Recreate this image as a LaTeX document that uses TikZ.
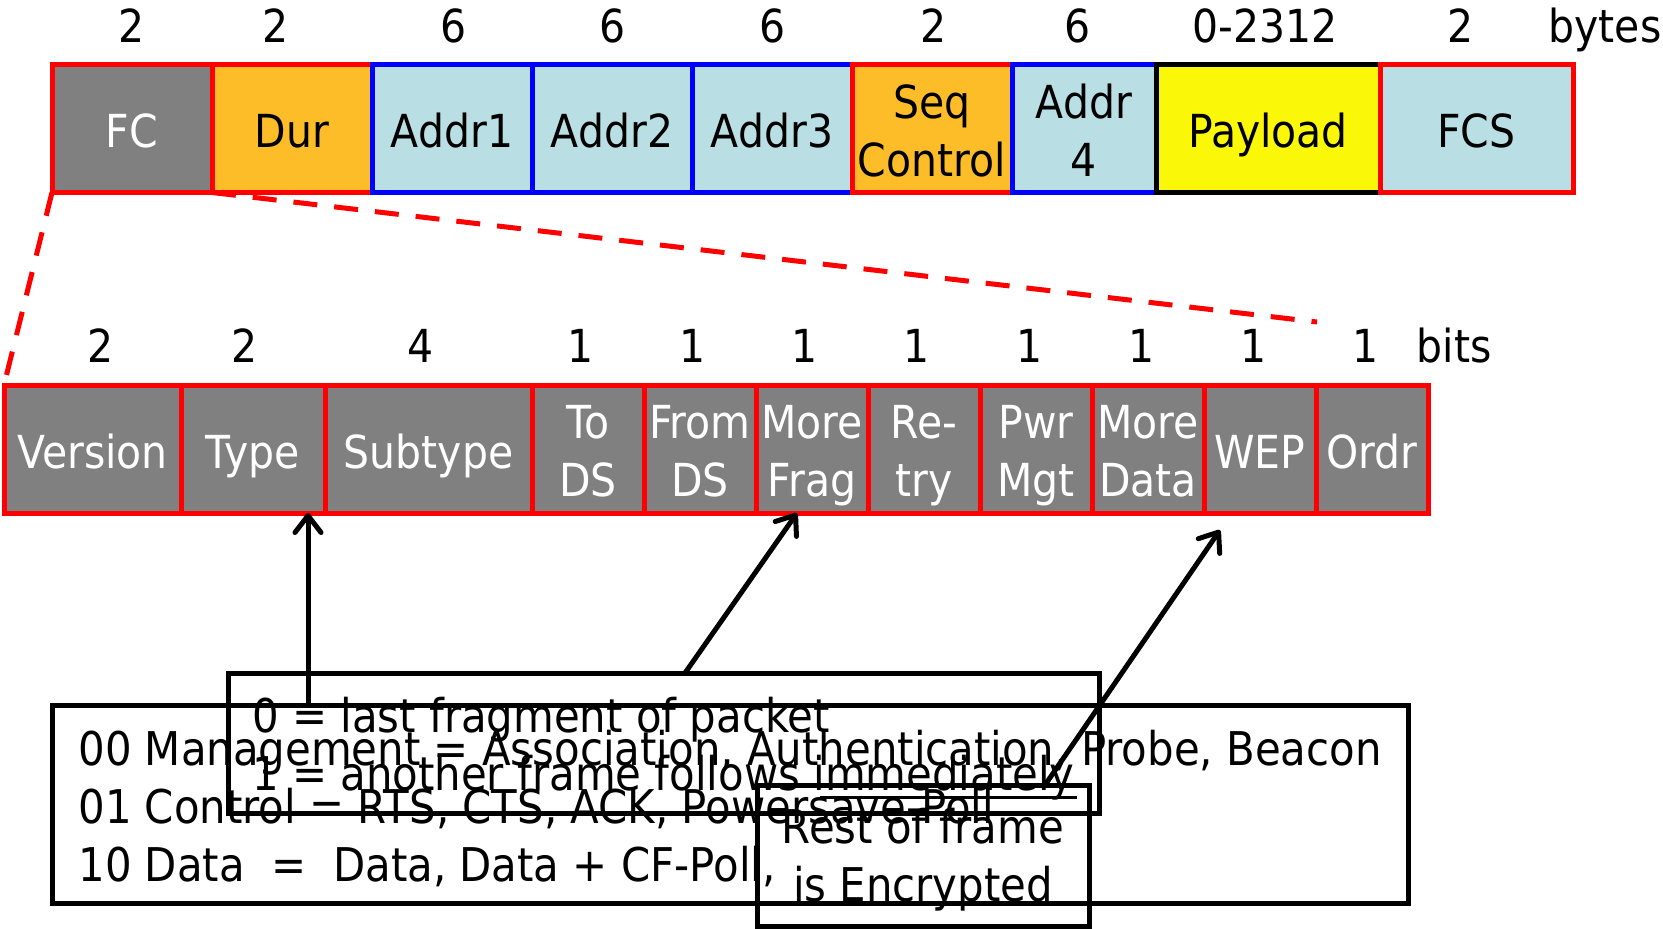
\documentclass[tikz,border=0pt]{standalone}
\usepackage{fontspec}
\setmainfont{DejaVu Sans}[FakeStretch=0.9]
\usetikzlibrary{positioning,arrows.meta}
\definecolor{fcgray}{RGB}{128,128,128}
\definecolor{durorange}{RGB}{252,189,40}
\definecolor{addrcyan}{RGB}{185,223,228}
\definecolor{payyellow}{RGB}{250,248,8}
\newcommand{\twolines}[2]{\rule{0pt}{48pt}#1\\#2\rule[-11pt]{0pt}{11pt}}
\newcommand{\topstrut}[1]{\rule{0pt}{#1}}

\begin{document}
\begin{tikzpicture}[x=1pt, y=-1pt, node distance=0pt,
    every node/.style={font=\fontsize{45.5}{58}\selectfont},
    bytebox/.style={draw, line width=5pt, outer sep=0pt, inner sep=0pt, minimum height=128pt, align=center},
    bitbox/.style={bytebox, fill=fcgray, draw=red, text=white, minimum width=112pt},
    oneline/.style={text height=38pt, text depth=0pt},
    numlabel/.style={anchor=base, inner sep=0pt},
    notebox/.style={draw, line width=5pt, outer sep=0pt, inner sep=0pt, align=left, font=\fontsize{46.5}{58}\selectfont},
    arr/.style={line width=5pt, -{Straight Barb[length=17pt,width=26pt,round]}},
    zoomline/.style={draw=red, line width=5pt, dash pattern=on 24pt off 17pt}]
    \useasboundingbox (0,0) rectangle (1663,929);

    \node[bytebox, oneline, fill=fcgray, draw=red, text=white, minimum width=160pt] (fc) at (132,128.5) {FC};
    \node[bytebox, oneline, fill=durorange, draw=red, minimum width=160pt, right=of fc] (dur) {Dur};
    \node[bytebox, oneline, fill=addrcyan, draw=blue, minimum width=160pt, right=of dur] (addra) {Addr1};
    \node[bytebox, oneline, fill=addrcyan, draw=blue, minimum width=160pt, right=of addra] (addrb) {Addr2};
    \node[bytebox, oneline, fill=addrcyan, draw=blue, minimum width=160pt, right=of addrb] (addrc) {Addr3};
    \node[bytebox, fill=durorange, draw=red, minimum width=160pt, right=of addrc] (seq) {\twolines{Seq}{Control}};
    \node[bytebox, fill=addrcyan, draw=blue, minimum width=144pt, right=of seq] (addrd) {\twolines{Addr}{4}};
    \node[bytebox, oneline, fill=payyellow, draw=black, minimum width=224pt, right=of addrd] (payload) {Payload};
    \node[bytebox, oneline, fill=addrcyan, draw=red, minimum width=193pt, right=of payload] (fcs) {FCS};

    \foreach \x/\n in {132/2, 276/2, 454/6, 613/6, 773/6, 934/2, 1078/6, 1265/0-2312, 1461/2, 1605/bytes}
        \node[numlabel] (bytes-\x) at (\x,42) {\n};

    \node[bytebox, oneline, fill=fcgray, draw=red, text=white, minimum width=177pt] (version) at (92.5,449) {Version};
    \node[bytebox, oneline, fill=fcgray, draw=red, text=white, minimum width=144pt, right=of version] (type) {Type};
    \node[bytebox, oneline, fill=fcgray, draw=red, text=white, minimum width=207pt, right=of type] (subtype) {Subtype};
    \node[bitbox, right=of subtype] (tods) {\twolines{To}{DS}};
    \node[bitbox, right=of tods] (fromds) {\twolines{From}{DS}};
    \node[bitbox, right=of fromds] (morefrag) {\twolines{More}{Frag}};
    \node[bitbox, right=of morefrag] (retry) {\twolines{Re-}{try}};
    \node[bitbox, right=of retry] (pwrmgt) {\twolines{Pwr}{Mgt}};
    \node[bitbox, right=of pwrmgt] (moredata) {\twolines{More}{Data}};
    \node[bitbox, oneline, right=of moredata] (wep) {WEP};
    \node[bitbox, oneline, right=of wep] (ordr) {Ordr};

    \foreach \x/\n in {101/2, 245/2, 421/4, 581/1, 693/1, 805/1, 917/1, 1030/1, 1142/1, 1254/1, 1366/1, 1454/bits}
        \node[numlabel] (bits-\x) at (\x,362) {\n};

    \coordinate (zoomend) at (1317,322);
    \draw[zoomline, shorten >=6pt] (fc.south west) -- (version.north west);
    \draw[zoomline] (fc.south east) -- (zoomend);

    \node[notebox, minimum width=1356pt, minimum height=198pt] (typecodes) at (730,804)
        {\topstrut{43.5pt}00 Management = Association, Authentication, Probe, Beacon\\01 Control = RTS, CTS, ACK, Powersave-Poll\\10 Data\ \ =\ \ Data, Data + CF-Poll,};
    \node[notebox, minimum width=871pt, minimum height=140pt] (fragnote) at (663.5,743)
        {\topstrut{47.5pt}0 = last fragment of packet\\1 = another frame follows immediately};
    \node[notebox, align=center, minimum width=332pt, minimum height=141pt] (wepnote) at (923,855.5)
        {\topstrut{44pt}Rest of frame\\is Encrypted};
    \draw[line width=3pt] (820,797) -- (1077,797);

    \coordinate (weptip) at (1220,530);
    \draw[arr] (typecodes.north -| 308,0) -- (type.south -| 308,0);
    \draw[arr] (fragnote.north -| 685,0) -- (morefrag.south -| 797,0);
    \draw[arr] (wepnote.north -| 1045,0) -- (weptip);
\end{tikzpicture}
\end{document}
